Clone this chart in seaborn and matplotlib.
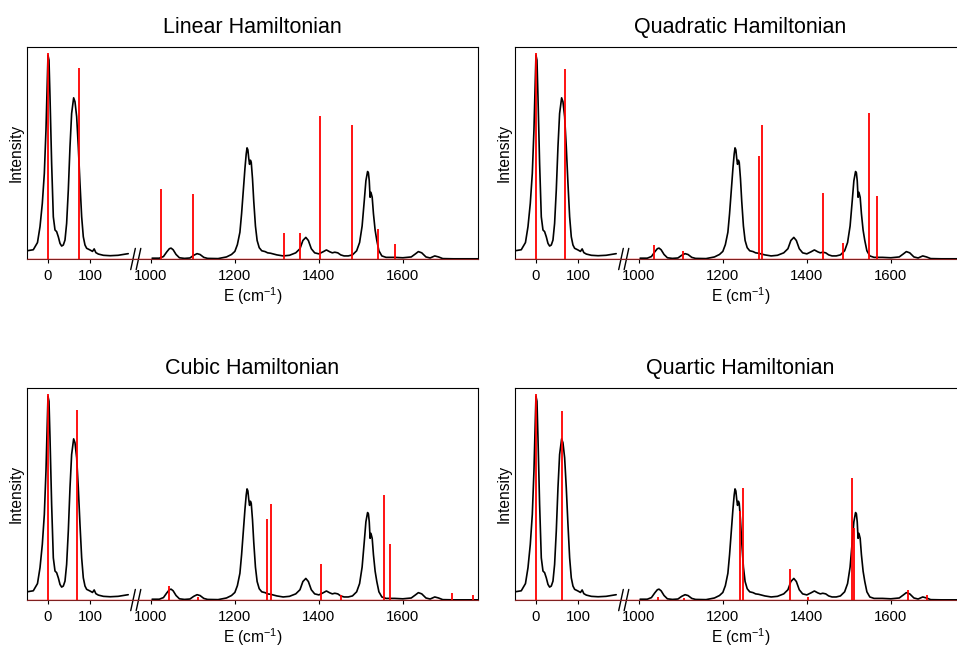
import numpy as np
import matplotlib
matplotlib.use("Agg")
import matplotlib.pyplot as plt
import matplotlib.transforms as mtransforms
import seaborn as sns

# measured spectrum (same in every panel), low-energy and high-energy windows
EXP_LOW_E = [-50, -35, -25, -19, -13.5, -8.7, -4.8, -1.6, 0, 2.4, 4.8, 8.7, 12.7,
             16.7, 20.6, 24.6, 28.6, 32.5, 36.5, 40.5, 44.4, 48.4, 52.4, 56.3, 61.1,
             64.3, 68.3, 72.2, 76.2, 80.2, 84.1, 88.1, 92.1, 100, 106, 110, 114,
             120, 132, 148, 167, 191]
EXP_LOW_I = [0.040, 0.045, 0.080, 0.157, 0.270, 0.416, 0.626, 0.869, 0.990, 0.966,
             0.788, 0.464, 0.205, 0.141, 0.133, 0.108, 0.076, 0.063, 0.068, 0.092,
             0.173, 0.335, 0.545, 0.707, 0.783, 0.764, 0.691, 0.545, 0.367, 0.205,
             0.108, 0.068, 0.052, 0.044, 0.037, 0.049, 0.031, 0.024, 0.018, 0.016,
             0.018, 0.026]

EXP_HIGH_E = [1003, 1020, 1030, 1038, 1044, 1048, 1053, 1060, 1068, 1080, 1093, 1102,
              1110, 1117, 1126, 1135, 1160, 1180, 1192, 1200, 1206, 1212, 1216, 1220,
              1224, 1227, 1229, 1231, 1233, 1235, 1237, 1239, 1242, 1245, 1249, 1253,
              1258, 1264, 1272, 1278, 1285, 1300, 1315, 1330, 1345, 1355, 1362, 1369,
              1375, 1382, 1390, 1400, 1410, 1418, 1426, 1432, 1438, 1445, 1452, 1460,
              1470, 1480, 1490, 1497, 1503, 1508, 1512, 1516, 1518, 1520, 1522, 1524,
              1527, 1530, 1534, 1538, 1543, 1550, 1560, 1580, 1600, 1620, 1630, 1637,
              1645, 1655, 1665, 1676, 1685, 1695, 1720, 1779]
EXP_HIGH_I = [0.004, 0.004, 0.012, 0.035, 0.050, 0.053, 0.045, 0.022, 0.006, 0.003,
              0.005, 0.018, 0.026, 0.022, 0.008, 0.003, 0.002, 0.010, 0.022, 0.037,
              0.070, 0.130, 0.220, 0.330, 0.440, 0.510, 0.540, 0.530, 0.490, 0.460,
              0.480, 0.470, 0.390, 0.280, 0.160, 0.090, 0.055, 0.040, 0.036, 0.030,
              0.028, 0.020, 0.015, 0.018, 0.030, 0.050, 0.090, 0.105, 0.090, 0.050,
              0.030, 0.025, 0.035, 0.044, 0.035, 0.030, 0.033, 0.030, 0.020, 0.015,
              0.015, 0.020, 0.040, 0.080, 0.160, 0.280, 0.380, 0.425, 0.419, 0.380,
              0.300, 0.324, 0.300, 0.220, 0.140, 0.090, 0.040, 0.015, 0.008, 0.008,
              0.006, 0.010, 0.025, 0.036, 0.030, 0.010, 0.005, 0.015, 0.010, 0.002,
              0.001, 0.001]

# computed stick spectra
LINEAR_E = [0, 75, 1024, 1101, 1317, 1356, 1402, 1480, 1541, 1581]
LINEAR_I = [1.0, 0.93, 0.34, 0.315, 0.125, 0.125, 0.694, 0.649, 0.144, 0.073]

QUADRATIC_E = [0, 68, 1036, 1104, 1286, 1293, 1438, 1486, 1549, 1568]
QUADRATIC_I = [1.0, 0.922, 0.07, 0.04, 0.50, 0.65, 0.319, 0.076, 0.707, 0.306]

CUBIC_E = [0, 69, 1042, 1112, 1276, 1285, 1405, 1452, 1554, 1569, 1718, 1768]
CUBIC_I = [1.0, 0.922, 0.07, 0.016, 0.396, 0.469, 0.175, 0.026, 0.51, 0.272, 0.034, 0.024]

QUARTIC_E = [0, 63, 1045, 1108, 1242, 1249, 1360, 1402, 1507, 1512, 1641, 1686]
QUARTIC_I = [1.0, 0.916, 0.016, 0.008, 0.434, 0.542, 0.15, 0.013, 0.594, 0.35, 0.049, 0.026]

TITLES = ["Linear Hamiltonian", "Quadratic Hamiltonian", "Cubic Hamiltonian", "Quartic Hamiltonian"]
TICK_E = [0, 100, 1000, 1200, 1400, 1600]

E_MIN, E_MAX = -50, 1779
CUT, SHIFT = 500, 755      # axis break: everything above CUT is moved left by SHIFT
BREAK_MARKS = [197, 210]   # left ends of the two "//" strokes, axis units


def to_axis(e):
    e = np.asarray(e, dtype=float)
    return np.where(e > CUT, e - SHIFT, e)


sns.set_style("white")
plt.rcParams["font.family"] = ["Liberation Sans", "DejaVu Sans"]
plt.rcParams["mathtext.default"] = "regular"
plt.rcParams["text.color"] = "black"
plt.rcParams["axes.labelcolor"] = "black"

fig = plt.figure(figsize=(9.57, 6.48), dpi=100)

sticks = [(LINEAR_E, LINEAR_I), (QUADRATIC_E, QUADRATIC_I), (CUBIC_E, CUBIC_I), (QUARTIC_E, QUARTIC_I)]
boxes = [[0.0282, 0.6003], [0.5381, 0.6003], [0.0282, 0.0740], [0.5381, 0.0740]]

for title, (se, si), (left, bottom) in zip(TITLES, sticks, boxes):
    ax = fig.add_axes([left, bottom, 0.4713, 0.3272])

    sns.lineplot(x=to_axis(EXP_LOW_E), y=EXP_LOW_I, ax=ax, color="black", lw=1.2,
                 estimator=None, sort=False)
    sns.lineplot(x=to_axis(EXP_HIGH_E), y=EXP_HIGH_I, ax=ax, color="black", lw=1.2,
                 estimator=None, sort=False)
    ax.vlines(to_axis(se), 0, si, color="red", lw=1.3, zorder=3)
    ax.axhline(0, color="red", lw=1.0, zorder=1)

    ax.set_xlim(float(to_axis(E_MIN)), float(to_axis(E_MAX)))
    ax.set_ylim(0, 1.03)
    ax.set_yticks([])
    ax.set_xticks(to_axis(TICK_E))
    ax.set_xticklabels([str(t) for t in TICK_E])
    ax.tick_params(axis="x", bottom=True, direction="out", length=3, width=0.8,
                   pad=4.5, labelsize=10.7, colors="black")

    for side in ["left", "right", "top", "bottom"]:
        ax.spines[side].set_visible(True)
        ax.spines[side].set_color("black")
        ax.spines[side].set_linewidth(0.8)
    ax.spines["bottom"].set_color("#802020")

    # broken-axis marks
    trans = mtransforms.blended_transform_factory(ax.transData, ax.transAxes)
    for x0 in BREAK_MARKS:
        ax.plot([x0, x0 + 11], [-0.05, 0.05], transform=trans, color="black",
                lw=1.0, clip_on=False)

    ax.set_title(title, fontsize=15.5, pad=10, color="black")
    ax.set_ylabel("Intensity", fontsize=11.2)
    ax.yaxis.set_label_coords(-0.007, 0.5)
    ax.set_xlabel("E (cm$^{-1}$)", fontsize=11.2, labelpad=1)

fig.savefig("out.png", dpi=100)
